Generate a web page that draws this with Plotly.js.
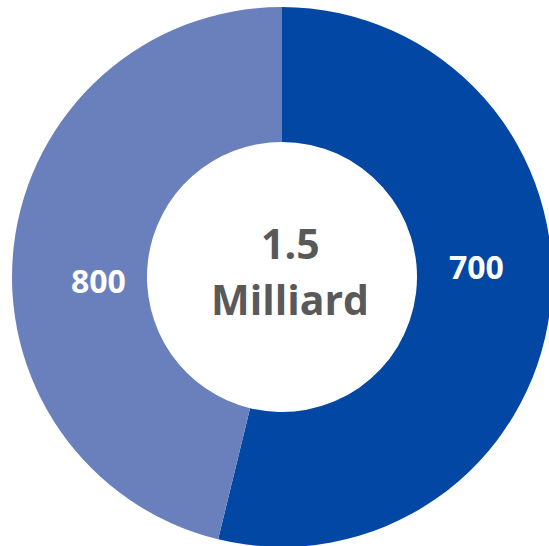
<!DOCTYPE html>
<html>
<head>
<meta charset="utf-8">
<script src="https://cdn.plot.ly/plotly-3.0.1.min.js"></script>
<style>
html, body { margin: 0; padding: 0; overflow: hidden; background: #ffffff; }
#chart { width: 564px; height: 554px; }
</style>
</head>
<body>
<div id="chart"></div>
<script>
// Data
var sliceNames  = ['700', '800'];          // printed labels
var sliceShares = [53.8, 46.2];            // angular share of each slice as drawn (%)
var sliceColors = ['#0247a3', '#6a80bd'];
var centerLines = ['1.5', 'Milliard'];

var trace = {
  type: 'pie',
  labels: sliceNames,
  values: sliceShares,
  sort: false,
  direction: 'clockwise',
  rotation: 0,
  hole: 0.5,
  textinfo: 'none',
  hoverinfo: 'none',
  showlegend: false,
  marker: { colors: sliceColors, line: { width: 0 } },
  domain: { x: [12 / 564, 552 / 564], y: [7 / 554, 547 / 554] }
};

var labelPos = [[476 / 564, (554 - 266) / 554], [98 / 564, (554 - 280) / 554]];
var annotations = sliceNames.map(function (t, i) {
  return {
    text: t, xref: 'paper', yref: 'paper',
    x: labelPos[i][0], y: labelPos[i][1],
    xanchor: 'center', yanchor: 'middle', showarrow: false,
    font: { family: 'Open Sans, sans-serif', size: 32, color: '#ffffff', weight: 'bold' }
  };
});
var centerY = [243, 299];
centerLines.forEach(function (t, i) {
  annotations.push({
    text: t, xref: 'paper', yref: 'paper',
    x: 290 / 564, y: (554 - centerY[i]) / 554,
    xanchor: 'center', yanchor: 'middle', showarrow: false,
    font: { family: 'Open Sans, sans-serif', size: 41, color: '#595959', weight: 'bold' }
  });
});

var layout = {
  width: 564, height: 554,
  margin: { l: 0, r: 0, t: 0, b: 0, pad: 0 },
  paper_bgcolor: '#ffffff',
  showlegend: false,
  annotations: annotations
};

Plotly.newPlot('chart', [trace], layout, { displayModeBar: false, staticPlot: true });
</script>
</body>
</html>
